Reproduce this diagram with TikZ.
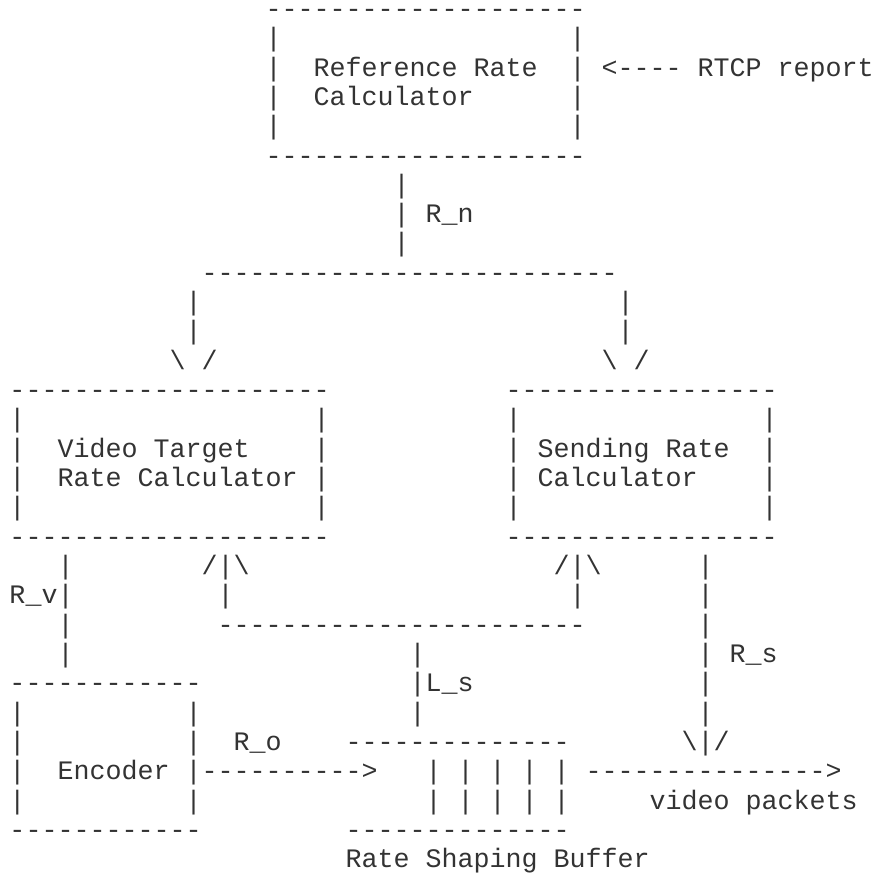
\documentclass[tikz,border=0pt]{standalone}
\usepackage{fontspec}
\setmonofont{Liberation Mono}
\usepackage{tikz}

\tikzset{
  ascii/.style={font=\ttfamily\fontsize{26.67}{29.32}\selectfont,
                anchor=base west, inner sep=0pt, text=black!80}
}

\begin{document}
\begin{tikzpicture}[x=16pt, y=-29.32pt]
    % one unit = one character cell, origin at column 0 / baseline of row 0
    \useasboundingbox (-9.3pt,17.4pt) rectangle ++(874pt,-875pt);

    % Reference Rate Calculator
    \node[ascii] (refTop) at (16,0) {--------------------};
    \foreach \r in {1,...,4} {
        \node[ascii] (refL\r) at (16,\r) {|};
        \node[ascii] (refR\r) at (35,\r) {|};
    }
    \node[ascii] (refName) at (19,2) {Reference Rate};
    \node[ascii] (refName2) at (19,3) {Calculator};
    \node[ascii] (rtcp) at (37,2) {<---- RTCP report};
    \node[ascii] (refBot) at (16,5) {--------------------};

    % R_n down to both calculators
    \foreach \r in {6,7,8} \node[ascii] (rn\r) at (24,\r) {|};
    \node[ascii] (rnLabel) at (26,7) {R\_n};
    \node[ascii] (split) at (12,9) {--------------------------};
    \foreach \r in {10,11} {
        \node[ascii] (splitL\r) at (11,\r) {|};
        \node[ascii] (splitR\r) at (38,\r) {|};
    }
    \node[ascii] (tipL) at (10,12) {\textbackslash{} /};
    \node[ascii] (tipR) at (37,12) {\textbackslash{} /};

    % Video Target Rate Calculator / Sending Rate Calculator
    \foreach \r in {13,18} {
        \node[ascii] (vidEdge\r) at (0,\r) {--------------------};
        \node[ascii] (sndEdge\r) at (31,\r) {-----------------};
    }
    \foreach \r in {14,...,17} {
        \node[ascii] (vidL\r) at (0,\r) {|};
        \node[ascii] (vidR\r) at (19,\r) {|};
        \node[ascii] (sndL\r) at (31,\r) {|};
        \node[ascii] (sndR\r) at (47,\r) {|};
    }
    \node[ascii] (vidName) at (3,15) {Video Target};
    \node[ascii] (vidName2) at (3,16) {Rate Calculator};
    \node[ascii] (sndName) at (33,15) {Sending Rate};
    \node[ascii] (sndName2) at (33,16) {Calculator};

    % R_v, L_s and R_s
    \node[ascii] (lsTipL) at (12,19) {/|\textbackslash};
    \node[ascii] (lsTipR) at (34,19) {/|\textbackslash};
    \node[ascii] (rvLabel) at (0,20) {R\_v|};
    \foreach \r in {19,21,22} \node[ascii] (rv\r) at (3,\r) {|};
    \node[ascii] (lsL) at (13,20) {|};
    \node[ascii] (lsR) at (35,20) {|};
    \node[ascii] (lsJoin) at (13,21) {-----------------------};
    \foreach \r in {22,24} \node[ascii] (ls\r) at (25,\r) {|};
    \node[ascii] (lsLabel) at (25,23) {|L\_s};
    \foreach \r in {19,20,21,23,24} \node[ascii] (rs\r) at (43,\r) {|};
    \node[ascii] (rsLabel) at (43,22) {| R\_s};
    \node[ascii] (rsTip) at (42,25) {\textbackslash|/};

    % Encoder
    \foreach \r in {23,28} \node[ascii] (encEdge\r) at (0,\r) {------------};
    \foreach \r in {24,...,27} \node[ascii] (encL\r) at (0,\r) {|};
    \foreach \r in {24,25,27} \node[ascii] (encR\r) at (11,\r) {|};
    \node[ascii] (encName) at (3,26) {Encoder};
    \node[ascii] (roArrow) at (11,26) {|---------->};
    \node[ascii] (roLabel) at (14,25) {R\_o};

    % Rate Shaping Buffer
    \foreach \r in {25,28} \node[ascii] (bufEdge\r) at (21,\r) {--------------};
    \foreach \r in {26,27} \node[ascii] (bufSlots\r) at (26,\r) {| | | | |};
    \node[ascii] (bufName) at (21,29) {Rate Shaping Buffer};
    \node[ascii] (outArrow) at (36,26) {--------------->};
    \node[ascii] (outLabel) at (40,27) {video packets};
\end{tikzpicture}
\end{document}
